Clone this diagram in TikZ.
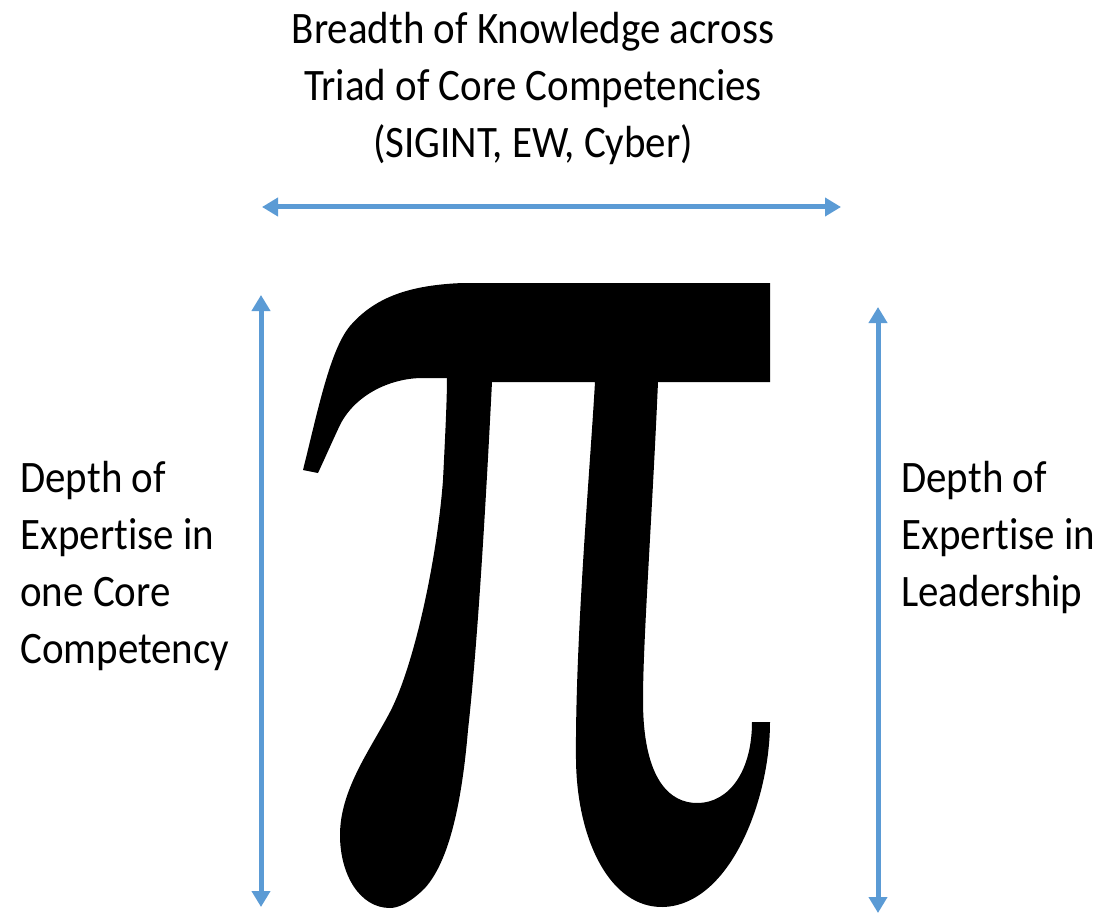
\documentclass[tikz,border=0pt]{standalone}
\usepackage{fontspec}
\setmainfont{Carlito}[FakeStretch=0.91,Ligatures=NoCommon]
\usepackage{xcolor}
\usepackage{tikz}
\usetikzlibrary{arrows.meta}
\definecolor{arrowblue}{HTML}{5B9BD5}

\begin{document}
\begin{tikzpicture}[
x=0.5pt,y=-0.5pt,
label/.style={inner sep=0pt,font=\fontsize{22.5pt}{28.5pt}\selectfont},
arr/.style={{Triangle[length=8pt,width=9pt]}-{Triangle[length=8pt,width=9pt]},line width=2.5pt,arrowblue}
]
\useasboundingbox (0,0) rectangle (1104,915);
% labels
\node[label,align=center,anchor=north] (breadth) at (533,12) {Breadth of Knowledge across\\Triad of Core Competencies\\(SIGINT, EW, Cyber)};
\node[label,align=left,anchor=north west] (core) at (20,461) {Depth of\\Expertise in\\one Core\\Competency};
\node[label,align=left,anchor=north west] (lead) at (901,461) {Depth of\\Expertise in\\Leadership};
% arrow ends
\coordinate (bL) at (262,207);
\coordinate (bR) at (841,207);
\coordinate (cT) at (261,295);
\coordinate (cB) at (261,907);
\coordinate (lT) at (878,307);
\coordinate (lB) at (878,913);
\draw[arr] (bL) -- (bR);
\draw[arr] (cT) -- (cB);
\draw[arr] (lT) -- (lB);
% the pi
\fill[black] (463,283) -- (770,283) -- (770,382) -- (658,382)
  .. controls (652,520) and (643,640) .. (643,700)
  .. controls (643,780) and (670,803) .. (697,803)
  .. controls (730,803) and (752,770) .. (752,722)
  -- (770,722)
  .. controls (770,800) and (730,905) .. (663,907)
  .. controls (610,908) and (577,840) .. (576,760)
  .. controls (575,640) and (590,470) .. (595,382)
  -- (492,382)
  .. controls (486,500) and (478,640) .. (468,730)
  .. controls (462,800) and (450,860) .. (425,888)
  .. controls (410,903) and (398,908) .. (390,908)
  .. controls (360,908) and (340,875) .. (340,835)
  .. controls (340,790) and (370,750) .. (390,712)
  .. controls (414,666) and (437,560) .. (443,480)
  .. controls (445,440) and (447,400) .. (447,378)
  -- (423,378)
  .. controls (390,378) and (355,395) .. (340,425)
  .. controls (332,442) and (325,458) .. (318,473)
  -- (303,470)
  .. controls (318,410) and (330,350) .. (350,326)
  .. controls (375,297) and (410,285) .. (463,283)
  -- cycle;
\end{tikzpicture}
\end{document}
